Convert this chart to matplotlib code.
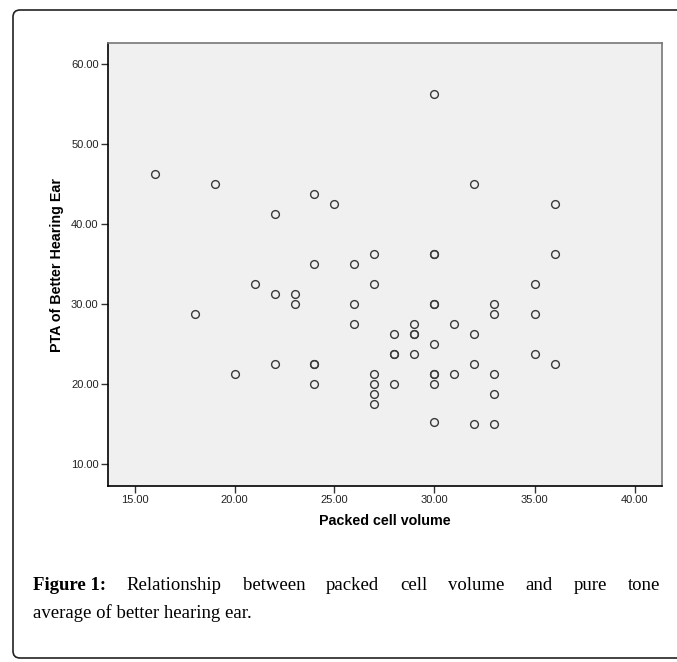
import matplotlib
matplotlib.use('Agg')
import matplotlib.pyplot as plt
from matplotlib.path import Path
from matplotlib.patches import PathPatch

# packed cell volume vs PTA of better hearing ear (duplicates drawn twice)
pcv = [16, 19, 22, 24, 25, 30, 32, 36,
       27, 30, 30, 36,
       24, 26, 21, 27, 35,
       22, 23, 23, 26, 30, 30, 33,
       18, 33, 35,
       26, 29, 31,
       28, 29, 29, 32,
       30,
       28, 28, 29, 35,
       22, 24, 24, 32, 36,
       20, 27, 30, 30, 31, 33,
       24, 27, 28, 30,
       27, 33,
       27,
       30, 32, 33]
pta = [46.25, 45.0, 41.25, 43.75, 42.5, 56.25, 45.0, 42.5,
       36.25, 36.25, 36.25, 36.25,
       35.0, 35.0, 32.5, 32.5, 32.5,
       31.25, 31.25, 30.0, 30.0, 30.0, 30.0, 30.0,
       28.75, 28.75, 28.75,
       27.5, 27.5, 27.5,
       26.25, 26.25, 26.25, 26.25,
       25.0,
       23.75, 23.75, 23.75, 23.75,
       22.5, 22.5, 22.5, 22.5, 22.5,
       21.25, 21.25, 21.25, 21.25, 21.25, 21.25,
       20.0, 20.0, 20.0, 20.0,
       18.75, 18.75,
       17.5,
       15.25, 15.0, 15.0]

xticks = [15, 20, 25, 30, 35, 40]
yticks = [10, 20, 30, 40, 50, 60]

W, H = 677, 662
fig = plt.figure(figsize=(W / 100, H / 100), dpi=100)

# page frame: open on the right, rounded corners on the left
L, T, B, r = 13, 10, 658, 7
verts = [(W + 10, T), (L + r, T), (L, T), (L, T + r), (L, B - r),
         (L, B), (L + r, B), (W + 10, B)]
codes = [Path.MOVETO, Path.LINETO, Path.CURVE3, Path.CURVE3, Path.LINETO,
         Path.CURVE3, Path.CURVE3, Path.LINETO]
verts = [(x / W, 1 - y / H) for x, y in verts]
fig.add_artist(PathPatch(Path(verts, codes), transform=fig.transFigure,
                         fill=False, edgecolor='#222222', linewidth=1.2))

ax = fig.add_axes([107.7 / W, 1 - 485.7 / H, 554 / W, 442.4 / H])
ax.set_facecolor('#f0f0f0')
ax.plot(pcv, pta, linestyle='none', marker='o', markersize=5.6,
        markerfacecolor='none', markeredgecolor='#3a3a3a', markeredgewidth=1.0)

ax.set_xlim(13.66, 41.36)
ax.set_ylim(7.31, 62.65)
ax.set_xticks(xticks)
ax.set_yticks(yticks)
ax.set_xticklabels(['%.2f' % v for v in xticks])
ax.set_yticklabels(['%.2f' % v for v in yticks])
ax.tick_params(direction='out', length=5, width=1, color='#333333',
               labelsize=8, labelcolor='#222222', pad=1.5)
for lab in ax.get_xticklabels() + ax.get_yticklabels():
    lab.set_family('Liberation Sans')

ax.spines['left'].set_color('black')
ax.spines['bottom'].set_color('black')
ax.spines['top'].set_color('#777777')
ax.spines['right'].set_color('#777777')
for s in ax.spines.values():
    s.set_linewidth(1.2)

ax.set_xlabel('Packed cell volume', family='Liberation Sans', fontweight='bold',
              fontsize=10.3, labelpad=7)
ax.set_ylabel('PTA of Better Hearing Ear', family='Liberation Sans',
              fontweight='bold', fontsize=10.3, labelpad=5)

# caption, first line justified between left and right margins
serif = 'Liberation Serif'
cap_size = 13.5
y1 = 1 - 585 / H
y2 = 1 - 613 / H
x0, x1 = 33 / W, 660 / W

fig.canvas.draw()
renderer = fig.canvas.get_renderer()

head = fig.text(x0, y1, 'Figure 1:', family=serif, fontweight='bold',
                fontsize=cap_size, va='center', ha='left')
words = ['Relationship', 'between', 'packed', 'cell', 'volume', 'and',
         'pure', 'tone']
items = [head]
for w in words:
    items.append(fig.text(0, y1, w, family=serif, fontsize=cap_size,
                          va='center', ha='left'))
widths = [t.get_window_extent(renderer).width / W for t in items]
gap = (x1 - x0 - sum(widths)) / (len(items) - 1)
pos = x0
for t, w in zip(items, widths):
    t.set_x(pos)
    pos += w + gap

fig.text(x0, y2, 'average of better hearing ear.', family=serif,
         fontsize=cap_size, va='center', ha='left')

fig.savefig('out.png', dpi=100)
